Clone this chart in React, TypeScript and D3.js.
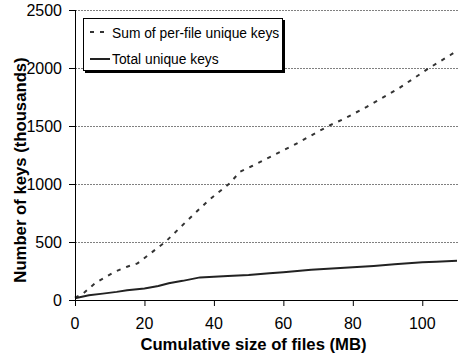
import React from "react";
import * as d3 from "d3";

const xTicks = [0, 20, 40, 60, 80, 100];
const yTicks = [0, 500, 1000, 1500, 2000, 2500];

const sumX = [0, 2.5, 6, 11.5, 15, 18, 21, 26, 32.5, 38.5, 44.5, 47.5, 51, 57, 63, 69, 73, 78, 84, 93, 102, 108, 110];
const sumY = [20, 60, 150, 245, 287, 316, 385, 500, 690, 860, 1005, 1105, 1155, 1245, 1335, 1435, 1500, 1570, 1665, 1820, 2000, 2110, 2150];

const totX = [0, 4, 8, 12, 15, 20, 24, 27, 31, 36, 40, 44, 50, 56, 60, 68, 74, 80, 86, 92, 100, 104, 110];
const totY = [15, 40, 55, 70, 85, 100, 120, 145, 165, 195, 200, 207, 215, 230, 240, 260, 272, 282, 294, 308, 325, 330, 338];

const seriesNames = ["Sum of per-file unique keys", "Total unique keys"];

const W = 458, H = 358;
const L = 75, R = 457, T = 10, B = 300;
const FONT = "'Liberation Sans', Arial, Helvetica, sans-serif";

export default function App() {
  const x = d3.scaleLinear().domain([0, 110]).range([L, R]);
  const y = d3.scaleLinear().domain([0, 2500]).range([B, T]);
  const line = d3.line<[number, number]>().x(d => x(d[0])).y(d => y(d[1]));
  const sumPts: [number, number][] = sumX.map((v, i) => [v, sumY[i]]);
  const totPts: [number, number][] = totX.map((v, i) => [v, totY[i]]);

  return (
    <svg width={W} height={H} style={{ position: "absolute", left: 0, top: 0, fontFamily: FONT }}>
      <rect width={W} height={H} fill="#fff" />
      {yTicks.filter(t => t > 0).map(t => (
        <line key={"g" + t} x1={L} x2={W} y1={y(t) + 0.5} y2={y(t) + 0.5} stroke="#808080" strokeWidth={1} strokeDasharray="2,1" />
      ))}
      <path d={line(sumPts) || ""} fill="none" stroke="#333" strokeWidth={2} strokeDasharray="4,6" />
      <path d={line(totPts) || ""} fill="none" stroke="#222" strokeWidth={2} />
      <line x1={L + 0.5} x2={L + 0.5} y1={T} y2={B + 0.5} stroke="#000" />
      <line x1={L} x2={W} y1={B + 0.5} y2={B + 0.5} stroke="#000" />
      {yTicks.map(t => (
        <g key={"y" + t}>
          <line x1={L - 6} x2={L} y1={y(t) + 0.5} y2={y(t) + 0.5} stroke="#000" />
          <text x={62} y={y(t) + 5.5} textAnchor="end" fontSize={16} fill="#000" fontFamily={FONT}>{t}</text>
        </g>
      ))}
      {xTicks.map(t => (
        <g key={"x" + t}>
          <line x1={x(t) + 0.5} x2={x(t) + 0.5} y1={B} y2={B + 6} stroke="#000" />
          <text x={x(t)} y={329} textAnchor="middle" fontSize={16} fill="#000" fontFamily={FONT}>{t}</text>
        </g>
      ))}
      <text x={253.5} y={350} textAnchor="middle" fontSize={16.7} fontWeight="bold" fontFamily={FONT}>Cumulative size of files (MB)</text>
      <text transform={`translate(26,170) rotate(-90)`} textAnchor="middle" fontSize={16.7} fontWeight="bold" fontFamily={FONT}>Number of keys (thousands)</text>
      <g>
        <rect x={85} y={20} width={200} height={53} fill="#000" />
        <rect x={83.5} y={18.5} width={199} height={52} fill="#fff" stroke="#000" />
        <line x1={90} x2={108} y1={32} y2={32} stroke="#333" strokeWidth={2} strokeDasharray="4,6" />
        <text x={112} y={37.5} fontSize={13.8} fontFamily={FONT}>{seriesNames[0]}</text>
        <line x1={90} x2={110} y1={59} y2={59} stroke="#222" strokeWidth={2} />
        <text x={112} y={64} fontSize={13.8} fontFamily={FONT}>{seriesNames[1]}</text>
      </g>
    </svg>
  );
}
